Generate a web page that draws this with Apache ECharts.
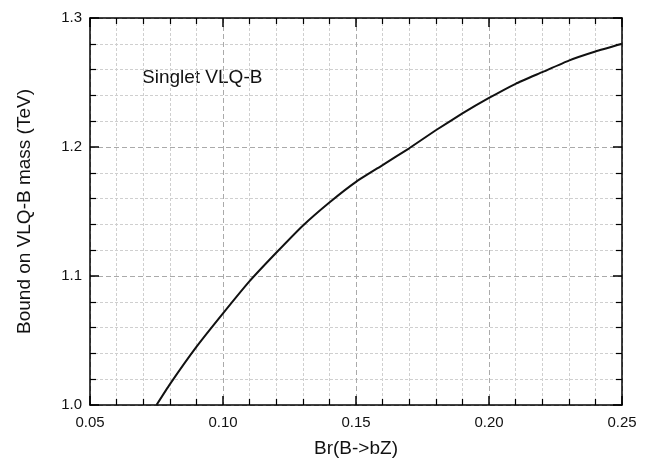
<!DOCTYPE html>
<html>
<head>
<meta charset="utf-8">
<script src="https://cdn.jsdelivr.net/npm/echarts@6/dist/echarts.min.js"></script>
<style>
  html, body { margin: 0; padding: 0; background: #fff; }
  #chart { width: 647px; height: 463px; }
</style>
</head>
<body>
<div id="chart"></div>
<script>
// Br(B->bZ) values and the mass bound
const brValues = [0.075, 0.08, 0.09, 0.10, 0.11, 0.12, 0.13, 0.14, 0.15, 0.16,
  0.17, 0.18, 0.19, 0.20, 0.21, 0.22, 0.23, 0.24, 0.25]
const massBound = [1.000, 1.016, 1.045, 1.071, 1.096, 1.118, 1.139, 1.157, 1.173, 1.186,
  1.199, 1.213, 1.226, 1.238, 1.249, 1.258, 1.267, 1.274, 1.280]
const xTicks = [0.05, 0.25, 0.05]   // min, max, step
const yTicks = [1.0, 1.3, 0.1]

const font = 'Liberation Sans, Arial, sans-serif'
const chart = echarts.init(document.getElementById('chart'))

const frameAxis = (extra) => Object.assign({
  type: 'value',
  axisLine: { show: true, onZero: false, lineStyle: { color: '#000', width: 1.5 } },
  axisTick: { show: true, inside: true, length: 9, lineStyle: { color: '#000', width: 1.5 } },
  minorTick: { show: true, splitNumber: 5, length: 6, lineStyle: { color: '#000', width: 1.2 } },
  splitLine: { show: false },
  minorSplitLine: { show: false },
  axisLabel: { show: false }
}, extra)

chart.setOption({
  animation: false,
  grid: { left: 90, right: 25, top: 18, bottom: 56 },
  graphic: [{
    type: 'text', left: 142, top: 68,
    style: { text: 'Singlet VLQ-B', font: '19px ' + font, fill: '#111' }
  }],
  xAxis: [
    frameAxis({
      position: 'bottom', min: xTicks[0], max: xTicks[1], interval: xTicks[2],
      name: 'Br(B->bZ)', nameLocation: 'middle', nameGap: 34,
      nameTextStyle: { fontFamily: font, fontSize: 19, color: '#111' },
      axisLabel: { show: true, margin: 10, fontFamily: font, fontSize: 15, color: '#111',
        formatter: v => v.toFixed(2) },
      splitLine: { show: true, lineStyle: { color: '#aaa', type: [5, 3], width: 1 } },
      minorSplitLine: { show: true, lineStyle: { color: '#cfcfcf', type: [3, 2], width: 1 } }
    }),
    frameAxis({ position: 'top', min: xTicks[0], max: xTicks[1], interval: xTicks[2] })
  ],
  yAxis: [
    frameAxis({
      position: 'left', min: yTicks[0], max: yTicks[1], interval: yTicks[2],
      name: 'Bound on VLQ-B mass (TeV)', nameLocation: 'middle', nameGap: 56,
      nameTextStyle: { fontFamily: font, fontSize: 19, color: '#111' },
      axisLabel: { show: true, margin: 8, fontFamily: font, fontSize: 15, color: '#111',
        formatter: v => v.toFixed(1) },
      splitLine: { show: true, lineStyle: { color: '#aaa', type: [5, 3], width: 1 } },
      minorSplitLine: { show: true, lineStyle: { color: '#cfcfcf', type: [3, 2], width: 1 } }
    }),
    frameAxis({ position: 'right', min: yTicks[0], max: yTicks[1], interval: yTicks[2] })
  ],
  series: [{
    type: 'line',
    data: brValues.map((x, i) => [x, massBound[i]]),
    showSymbol: false,
    smooth: 0.15,
    lineStyle: { color: '#111', width: 2 },
    z: 5
  }]
})
</script>
</body>
</html>
